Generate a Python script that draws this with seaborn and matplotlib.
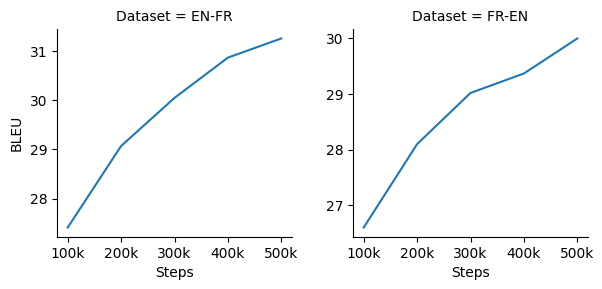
import matplotlib
matplotlib.use("Agg")
import matplotlib.pyplot as plt
import seaborn as sns
import pandas as pd

steps = ["100k", "200k", "300k", "400k", "500k"]
datasets = ["EN-FR", "FR-EN"]
bleu_en_fr = [27.41, 29.07, 30.05, 30.87, 31.26]
bleu_fr_en = [26.60, 28.10, 29.02, 29.37, 30.00]

df = pd.DataFrame({
    "Steps": steps * 2,
    "BLEU": bleu_en_fr + bleu_fr_en,
    "Dataset": [datasets[0]] * 5 + [datasets[1]] * 5,
})

g = sns.relplot(data=df, x="Steps", y="BLEU", col="Dataset", kind="line",
                height=2.89, aspect=1.04, facet_kws=dict(sharey=False))
g.figure.set_size_inches(6.02, 2.89)
g.figure.subplots_adjust(left=57/602, right=588/602, bottom=1-237/289,
                         top=1-29/289, wspace=61/235)
g.figure.savefig("out.png", dpi=100)
